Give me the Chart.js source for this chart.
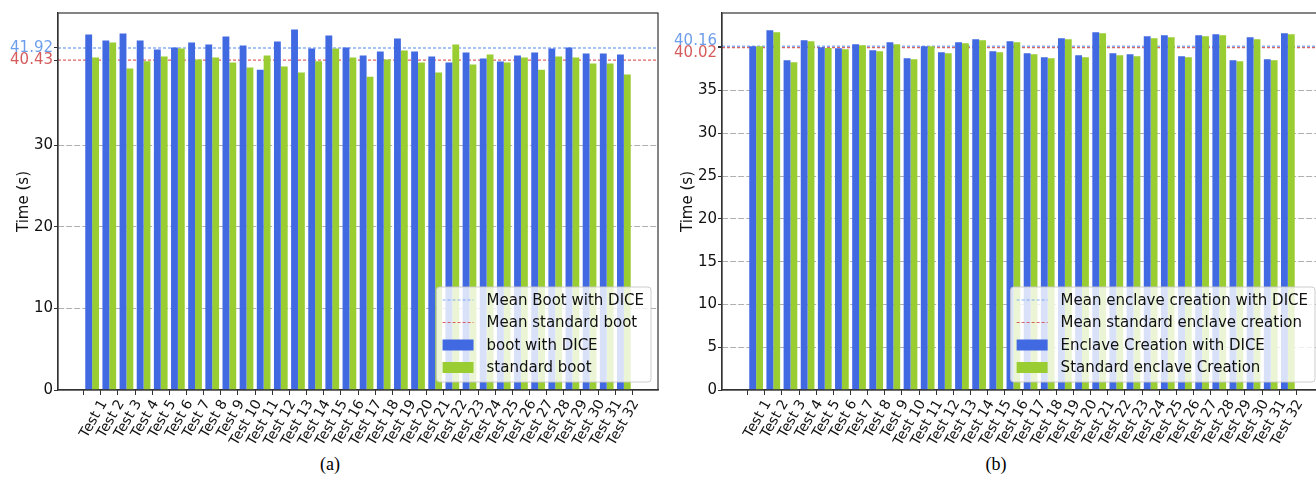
<!DOCTYPE html>
<html>
<head>
<meta charset="utf-8">
<script src="https://cdn.jsdelivr.net/npm/chart.js@4.4.1/dist/chart.umd.min.js"></script>
<style>
html, body { margin: 0; padding: 0; background: #fff; }
#fig { position: relative; width: 1316px; height: 477px; overflow: hidden; }
.panel { position: absolute; top: 0; width: 662px; height: 452px; }
.cap { position: absolute; top: 454px; font: 18px "Liberation Serif", serif; color: #000; transform: translateX(-50%); }
</style>
</head>
<body>
<div id="fig">
  <div class="panel" style="left:0"><canvas id="chartA" width="662" height="452"></canvas></div>
  <div class="panel" style="left:664px"><canvas id="chartB" width="662" height="452"></canvas></div>
  <div class="cap" style="left:330px">(a)</div>
  <div class="cap" style="left:996px">(b)</div>
</div>
<script>
var tests = [];
for (var n = 1; n <= 32; n++) tests.push('Test ' + n);

// (a) boot time
var bootDice = [43.56, 42.82, 43.68, 42.82, 41.72, 41.96, 42.58, 42.33, 43.31, 42.21, 39.26, 42.70,
                44.17, 41.84, 43.44, 41.96, 40.98, 41.47, 43.07, 41.47, 40.86, 40.12, 41.35, 40.61,
                40.25, 40.98, 41.35, 41.84, 41.96, 41.23, 41.23, 41.10];
var bootStd = [40.74, 42.58, 39.39, 40.29, 40.86, 41.84, 40.49, 40.74, 40.12, 39.51, 40.98, 39.63,
               38.90, 40.29, 41.84, 40.74, 38.40, 40.49, 41.60, 40.12, 38.90, 42.33, 39.88, 41.10,
               40.12, 40.74, 39.26, 40.86, 40.74, 40.00, 40.00, 38.65];
var bootMeans = [41.92, 40.43];
var bootTicks = [0, 10, 20, 30, 40.43, 41.92];

// (b) enclave creation time
var enclaveDice = [40.17, 42.04, 38.54, 40.87, 40.06, 39.94, 40.41, 39.71, 40.64, 38.77, 40.17, 39.47,
                   40.64, 40.99, 39.59, 40.76, 39.36, 38.89, 41.11, 39.12, 41.81, 39.36, 39.24, 41.34,
                   41.46, 39.00, 41.46, 41.57, 38.54, 41.22, 38.65, 41.69];
var enclaveStd = [40.17, 41.81, 38.30, 40.76, 39.97, 39.82, 40.29, 39.59, 40.41, 38.65, 40.17, 39.36,
                  40.52, 40.87, 39.47, 40.64, 39.24, 38.77, 40.99, 38.89, 41.69, 39.12, 39.00, 41.11,
                  41.22, 38.89, 41.34, 41.46, 38.42, 40.99, 38.54, 41.57];
var enclaveMeans = [40.16, 40.02];
var enclaveTicks = [0, 5, 10, 15, 20, 25, 30, 35, 40.02, 40.16];

var BLUE = '#4169E1', GREEN = '#9ACD32';
var MEAN_BLUE = 'rgba(100,149,237,0.75)', MEAN_RED = 'rgba(214,60,60,0.8)';
var LBL_BLUE = '#6d9eeb', LBL_RED = '#d65c5c';
var X_MIN = -1.99, X_MAX = 32.99;

function pts(arr) { return arr.map(function (v, i) { return { x: i, y: v }; }); }

var spines = {
  id: 'spines',
  afterDraw: function (chart) {
    var ctx = chart.ctx, a = chart.chartArea;
    ctx.save();
    ctx.strokeStyle = '#333';
    ctx.lineWidth = 1.2;
    ctx.strokeRect(a.left, a.top, a.right - a.left, a.bottom - a.top);
    ctx.restore();
  }
};

var boxLegend = {
  id: 'boxLegend',
  afterDraw: function (chart, args, opts) {
    var ctx = chart.ctx, a = chart.chartArea;
    ctx.save();
    ctx.font = '15px "DejaVu Sans"';
    var tw = 0;
    opts.items.forEach(function (it) { tw = Math.max(tw, ctx.measureText(it.text).width); });
    var w = 50 + tw + 7, h = 95;
    var x0 = a.right - 7 - w, y0 = a.bottom - 8 - h;
    ctx.beginPath();
    ctx.roundRect(x0, y0, w, h, 3);
    ctx.fillStyle = 'rgba(255,255,255,0.8)';
    ctx.fill();
    ctx.strokeStyle = 'rgba(200,200,200,0.9)';
    ctx.lineWidth = 1;
    ctx.stroke();
    opts.items.forEach(function (it, i) {
      var cy = y0 + 13 + i * 22.5;
      if (it.kind === 'line') {
        ctx.beginPath();
        ctx.setLineDash([3, 2]);
        ctx.strokeStyle = it.color;
        ctx.lineWidth = 1.2;
        ctx.moveTo(x0 + 6, cy);
        ctx.lineTo(x0 + 37, cy);
        ctx.stroke();
        ctx.setLineDash([]);
      } else {
        ctx.fillStyle = it.color;
        ctx.fillRect(x0 + 6, cy - 5.5, 31, 11);
      }
      ctx.fillStyle = '#111';
      ctx.textBaseline = 'middle';
      ctx.fillText(it.text, x0 + 50, cy + 1);
    });
    ctx.restore();
  }
};

function makeChart(id, dice, std, means, yTicks, yMax, labels, nudge) {
  var ctx = document.getElementById(id).getContext('2d');
  return new Chart(ctx, {
    type: 'bar',
    data: {
      datasets: [
        { label: labels[2], data: pts(dice), backgroundColor: BLUE, order: 1,
          categoryPercentage: 0.8, barPercentage: 1.0 },
        { label: labels[3], data: pts(std), backgroundColor: GREEN, order: 1,
          categoryPercentage: 0.8, barPercentage: 1.0 },
        { type: 'line', label: labels[0], order: 2,
          data: [{ x: X_MIN, y: means[0] }, { x: X_MAX, y: means[0] }],
          borderColor: MEAN_BLUE, borderWidth: 1.5, borderDash: [3, 2], pointRadius: 0 },
        { type: 'line', label: labels[1], order: 2,
          data: [{ x: X_MIN, y: means[1] }, { x: X_MAX, y: means[1] }],
          borderColor: MEAN_RED, borderWidth: 1.2, borderDash: [3, 2], pointRadius: 0 }
      ]
    },
    options: {
      responsive: false,
      animation: false,
      layout: { padding: { left: 7, right: 4, top: 13, bottom: 0 } },
      plugins: {
        legend: { display: false },
        tooltip: { enabled: false },
        boxLegend: {
          items: [
            { kind: 'line', color: MEAN_BLUE, text: labels[0] },
            { kind: 'line', color: MEAN_RED, text: labels[1] },
            { kind: 'bar', color: BLUE, text: labels[2] },
            { kind: 'bar', color: GREEN, text: labels[3] }
          ]
        }
      },
      scales: {
        x: {
          type: 'linear',
          offset: false,
          min: X_MIN,
          max: X_MAX,
          afterBuildTicks: function (s) { s.ticks = tests.map(function (t, i) { return { value: i }; }); },
          afterFit: function (s) { s.height = 62; },
          grid: { drawOnChartArea: false, drawTicks: true, tickLength: 5, tickColor: '#333', tickWidth: 1 },
          border: { display: true, color: '#333', width: 1.2 },
          ticks: {
            autoSkip: false,
            minRotation: 60,
            maxRotation: 60,
            padding: 2,
            labelOffset: 12,
            color: '#111',
            font: { family: 'DejaVu Sans', size: 14 },
            callback: function (v) { return tests[v]; }
          }
        },
        y: {
          min: 0,
          max: yMax,
          afterBuildTicks: function (s) { s.ticks = yTicks.map(function (v) { return { value: v }; }); },
          afterFit: function (s) { s.width = 51; },
          title: { display: true, text: 'Time (s)', color: '#111', font: { family: 'DejaVu Sans', size: 15 }, padding: { top: 8, bottom: 0 } },
          grid: {
            color: function (c) {
              if (!c.tick || c.tick.value === 0 || means.indexOf(c.tick.value) >= 0) return 'rgba(0,0,0,0)';
              return 'rgba(150,150,150,0.75)';
            },
            lineWidth: 1,
            tickLength: 4,
            tickColor: '#333',
            tickBorderDash: [],
            tickWidth: 1
          },
          border: { display: true, color: '#333', width: 1.2, dash: [6, 2] },
          ticks: {
            autoSkip: false,
            padding: 1,
            font: { family: 'DejaVu Sans', size: 15, lineHeight: nudge ? 0.75 : 1.2 },
            color: function (c) {
              if (c.tick.value === means[0]) return LBL_BLUE;
              if (c.tick.value === means[1]) return LBL_RED;
              return '#111';
            },
            callback: function (v) {
              if (v === means[0]) return nudge ? [v.toFixed(2), ''] : v.toFixed(2);
              if (v === means[1]) return nudge ? ['', v.toFixed(2)] : v.toFixed(2);
              return String(v);
            }
          }
        }
      }
    },
    plugins: [spines, boxLegend]
  });
}

makeChart('chartA', bootDice, bootStd, bootMeans, bootTicks, 46.2,
  ['Mean Boot with DICE', 'Mean standard boot', 'boot with DICE', 'standard boot'], false);
makeChart('chartB', enclaveDice, enclaveStd, enclaveMeans, enclaveTicks, 44.06,
  ['Mean enclave creation with DICE', 'Mean standard enclave creation', 'Enclave Creation with DICE', 'Standard enclave Creation'], true);
</script>
</body>
</html>
